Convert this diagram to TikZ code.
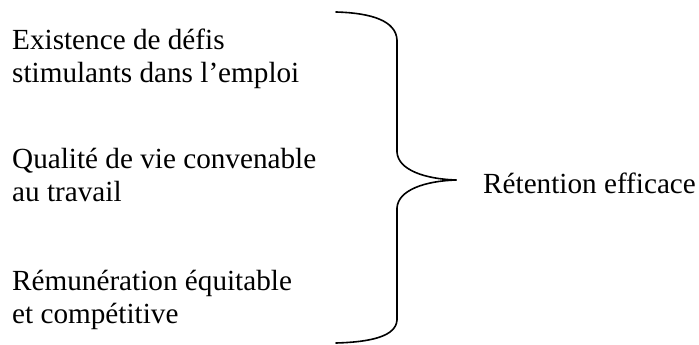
\documentclass[tikz,border=0pt]{standalone}
\usepackage{fontspec}
\setmainfont{Liberation Serif}
\begin{document}
\begin{tikzpicture}[x=1pt, y=-1pt,
  factor/.style={anchor=base west, align=left, inner sep=0pt, font=\fontsize{29.2}{33}\selectfont},
  result/.style={anchor=base west, inner sep=0pt, font=\fontsize{29.2}{33}\selectfont},
  brace/.style={line width=1.6pt, line cap=round}]
\useasboundingbox (0,0) rectangle (699,345);
% base anchor sits on the last line
\node[factor] at (12,83) (defis) {Existence de défis\\stimulants dans l’emploi};
\node[factor] at (12,201) (qualite) {Qualité de vie convenable\\au travail};
\node[factor] at (12,323) (remun) {Rémunération équitable\\et compétitive};
\node[result] at (483,193) (retention) {Rétention efficace};
\coordinate (tip) at (456,180);
\draw[brace] (336,12) .. controls (372,13) and (396,21) .. (397,40) -- (397,152)
  .. controls (398,170) and (425,179) .. (tip);
\draw[brace] (tip) .. controls (425,181) and (398,190) .. (397,208) -- (397,320)
  .. controls (396,336) and (372,342) .. (336,343);
\end{tikzpicture}
\end{document}
